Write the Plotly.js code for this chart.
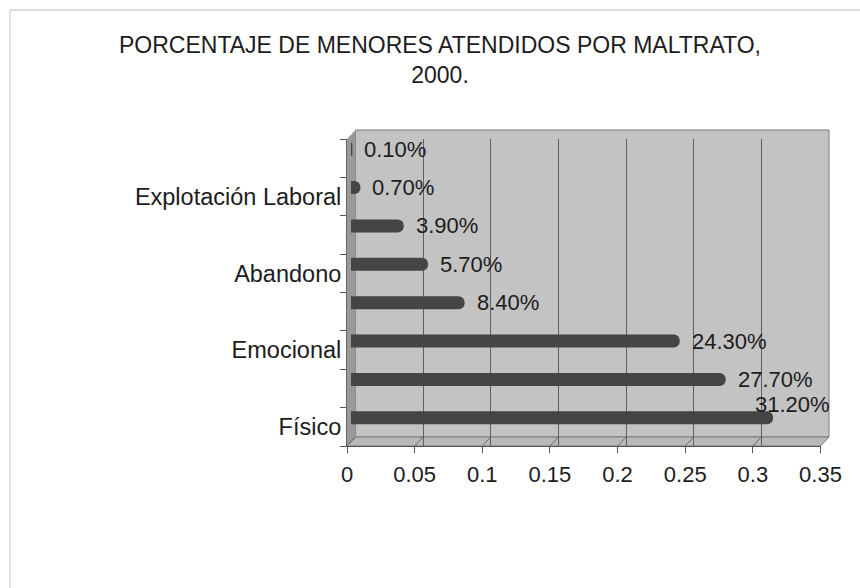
<!DOCTYPE html>
<html>
<head>
<meta charset="utf-8">
<script src="https://cdn.plot.ly/plotly-3.0.1.min.js"></script>
<style>html,body{margin:0;padding:0;background:#fff;}#chart{width:860px;height:588px;}</style>
</head>
<body>
<div id="chart"></div>
<script>
// ---- data ----
const categories = ['Físico', 'Omisión de cuidados', 'Emocional', 'Sexual', 'Abandono', 'Negligencia', 'Explotación Laboral', 'Explotación sexual comercial'];
const tickLabels = ['Físico', '', 'Emocional', '', 'Abandono', '', 'Explotación Laboral', ''];
const values = [0.312, 0.277, 0.243, 0.084, 0.057, 0.039, 0.007, 0.001];
const xTicks = [0, 0.05, 0.1, 0.15, 0.2, 0.25, 0.3, 0.35];
const xTickLabels = ['0', '0.05', '0.1', '0.15', '0.2', '0.25', '0.3', '0.35'];
const titleText = 'PORCENTAJE DE MENORES ATENDIDOS POR MALTRATO,<br>2000.';

// ---- layout helpers (pixel -> paper) ----
const W = 860, H = 588;
const px = x => x / W;
const py = y => 1 - y / H;
const FONT = 'Liberation Sans, Arial, sans-serif';
const TXT = '#1c1c1c';
const FS = 22;

// front plane, bar plane, back wall (3D look)
const front = {x0: 347, x1: 820.5, yTop: 139, yBot: 446};
const depth = 8.5;
const barShift = 4;
const wall = {x0: front.x0 + depth, x1: front.x1 + depth, yTop: front.yTop - 9, yBot: front.yBot - 9};

const fmt = v => (v * 100).toFixed(2) + '%';

const trace = {
  type: 'bar',
  orientation: 'h',
  x: values,
  y: categories,
  xaxis: 'x3',
  yaxis: 'y',
  width: 0.34,
  offset: 0.064,
  marker: {color: '#454545', cornerradius: 6, line: {width: 0}},
  hoverinfo: 'skip'
};

const shapes = [
  // outer frame lines (top and left)
  {type: 'line', xref: 'paper', yref: 'paper', x0: px(10), x1: px(860), y0: py(10), y1: py(10), line: {color: '#b5b5b5', width: 1}, layer: 'below'},
  {type: 'line', xref: 'paper', yref: 'paper', x0: px(10), x1: px(10), y0: py(10), y1: py(588), line: {color: '#c5c5c5', width: 1}, layer: 'below'},
  // back wall
  {type: 'rect', xref: 'paper', yref: 'paper', x0: px(wall.x0), x1: px(wall.x1), y0: py(wall.yBot), y1: py(wall.yTop),
   fillcolor: '#c3c3c3', line: {color: '#7a7a7a', width: 1}, layer: 'below'},
  // left wall
  {type: 'path', xref: 'paper', yref: 'paper',
   path: `M ${px(front.x0)} ${py(front.yTop)} L ${px(wall.x0)} ${py(wall.yTop)} L ${px(wall.x0)} ${py(wall.yBot)} L ${px(front.x0)} ${py(front.yBot)} Z`,
   fillcolor: '#999999', line: {width: 0}, layer: 'below'},
  // floor
  {type: 'path', xref: 'paper', yref: 'paper',
   path: `M ${px(front.x0)} ${py(front.yBot)} L ${px(wall.x0)} ${py(wall.yBot)} L ${px(wall.x1)} ${py(wall.yBot)} L ${px(front.x1)} ${py(front.yBot)} Z`,
   fillcolor: '#b9b9b9', line: {color: '#7a7a7a', width: 1}, layer: 'below'}
];
// slanted floor grid marks at each tick
xTicks.forEach(t => {
  shapes.push({type: 'line', xref: 'x', xsizemode: 'pixel', xanchor: t, x0: 0, x1: depth,
    yref: 'paper', y0: py(front.yBot), y1: py(wall.yBot), line: {color: '#6a6a6a', width: 1}, layer: 'between'});
});

// value labels
const barX0 = front.x0 + barShift, barX1 = front.x1 + barShift;
const annotations = values.map((v, i) => {
  const endPx = barX0 + v / 0.35 * (barX1 - barX0);
  const estW = fmt(v).length * 0.56 * FS;
  const over = endPx + 9 + estW > wall.x1;
  return over ? {
    xref: 'x2', yref: 'y', x: 0.35, y: categories[i], xanchor: 'right', yanchor: 'middle',
    xshift: 3, yshift: 22, text: fmt(v), showarrow: false, font: {family: FONT, size: FS, color: TXT}
  } : {
    xref: 'x3', yref: 'y', x: v, y: categories[i], xanchor: 'left', yanchor: 'middle',
    xshift: 10, yshift: 9, text: fmt(v), showarrow: false, font: {family: FONT, size: FS, color: TXT}
  };
});

const layout = {
  width: W, height: H,
  margin: {l: 0, r: 0, t: 0, b: 0},
  paper_bgcolor: '#ffffff',
  plot_bgcolor: 'rgba(0,0,0,0)',
  showlegend: false,
  font: {family: FONT, size: FS, color: TXT},
  title: {
    text: titleText,
    x: 440 / W, xanchor: 'center', xref: 'paper',
    y: 1 - 53 / H, yanchor: 'middle', yref: 'container',
    font: {family: FONT, size: 23, color: TXT}
  },
  // front axes (labels)
  xaxis: {
    domain: [px(front.x0), px(front.x1)], range: [0, 0.35], anchor: 'y',
    tickmode: 'array', tickvals: xTicks, ticktext: xTickLabels,
    ticks: 'outside', ticklen: 6, tickcolor: '#555', showgrid: false, zeroline: false,
    showline: true, linecolor: '#555', linewidth: 1, automargin: false, fixedrange: true,
    ticklabelstandoff: 3,
    tickfont: {family: FONT, size: FS, color: TXT}
  },
  yaxis: {
    domain: [py(front.yBot), py(front.yTop)], anchor: 'x', type: 'category',
    categoryorder: 'array', categoryarray: categories, range: [-0.5, categories.length - 0.5],
    tickmode: 'array', tickvals: categories, ticktext: tickLabels, tickson: 'boundaries',
    ticks: 'outside', ticklen: 6, tickcolor: '#555', showgrid: false, zeroline: false,
    showline: true, linecolor: '#666', automargin: false, fixedrange: true,
    tickfont: {family: FONT, size: 23.5, color: TXT}
  },
  // back wall grid
  xaxis2: {
    domain: [px(wall.x0), px(wall.x1)], range: [0, 0.35], anchor: 'y2',
    tickmode: 'array', tickvals: xTicks, showticklabels: false, ticks: '',
    showgrid: true, gridcolor: '#5e5e5e', gridwidth: 1, zeroline: false, showline: false, fixedrange: true
  },
  yaxis2: {
    domain: [py(wall.yBot), py(wall.yTop)], anchor: 'x2', range: [0, 1],
    showticklabels: false, ticks: '', showgrid: false, zeroline: false, showline: false, fixedrange: true
  },
  // bar plane
  xaxis3: {
    domain: [px(barX0), px(barX1)], range: [0, 0.35], anchor: 'y', visible: false, fixedrange: true
  },
  shapes: shapes,
  annotations: annotations
};

Plotly.newPlot('chart', [trace], layout, {displayModeBar: false, staticPlot: true});
</script>
</body>
</html>
